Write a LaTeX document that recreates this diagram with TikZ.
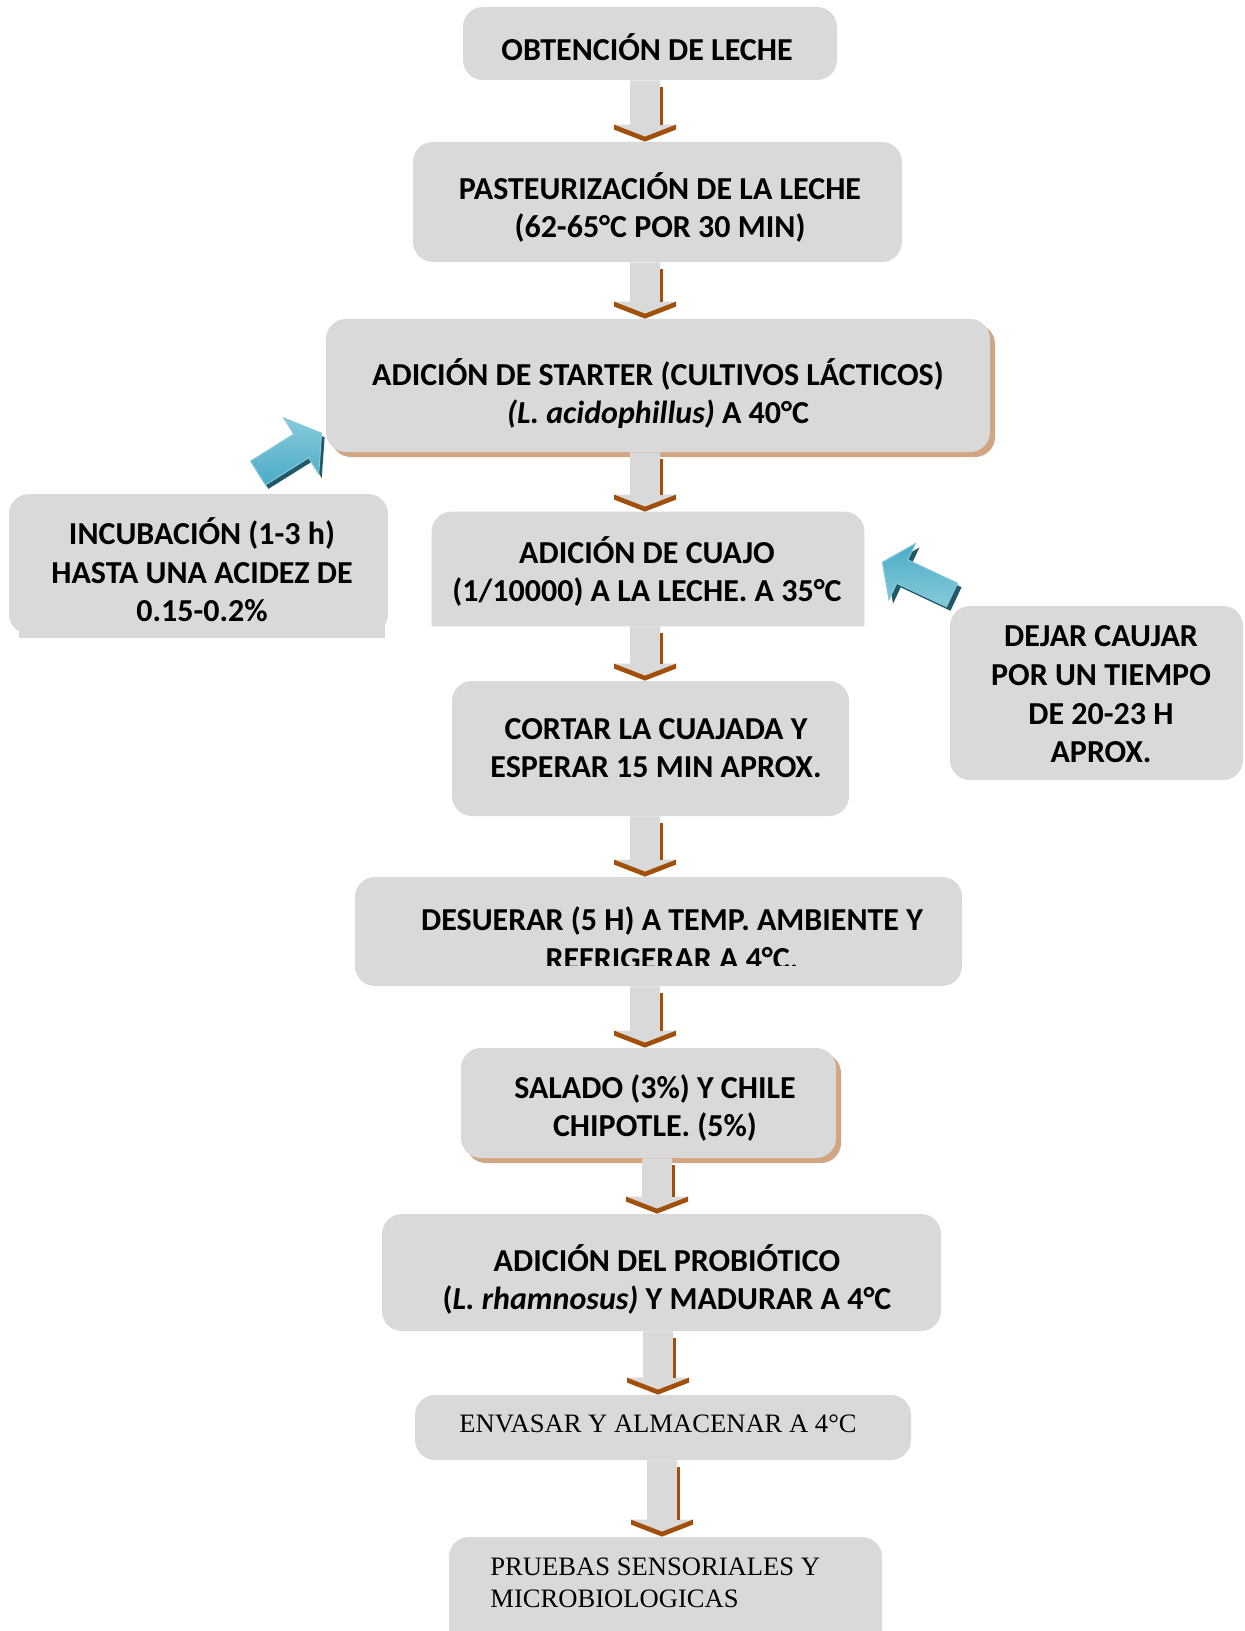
\documentclass[tikz,border=0pt]{standalone}
\usepackage{fontspec}
\setmainfont{Carlito}
\newfontfamily\serifrm{Liberation Serif}
\usetikzlibrary{calc,shadows}
\definecolor{boxgray}{HTML}{D9D9D9}
\definecolor{shadowtan}{HTML}{D2A583}
\definecolor{arrbrown}{HTML}{A0500A}
\definecolor{bluemid}{HTML}{4BACC6}
\definecolor{bluelight}{HTML}{86CADB}
\definecolor{bluedark}{HTML}{215968}
\tikzset{
  box/.style={fill=boxgray, rounded corners=10pt, inner sep=0pt},
  plainbox/.style={inner sep=0pt},
  tanshadow/.style={drop shadow={shadow xshift=2.5pt, shadow yshift=-2.5pt, fill=shadowtan, opacity=1}},
  txt/.style={font=\bfseries\fontsize{16}{19.3}\selectfont, align=center, inner sep=0pt},
  stxt/.style={font=\serifrm\fontsize{13.3}{16}\selectfont, inner sep=0pt},
}
\newcommand\boxnode[6][]{\node[box,#1, minimum width={#5*0.5pt}, minimum height={#6*0.5pt}] (#2) at (#3,#4) {};}
\newcommand\flowarrow[3]{%
  \path (#3,0) coordinate (ax);
  \path (ax |- #1.south) coordinate (as) (ax |- #2.north) coordinate (at);
  \fill[boxgray] ($(as)+(-15,0)$) -- ($(as)+(15,0)$) -- ($(at)+(15,-17)$) -- ($(at)+(31,-17)$) -- ($(at)+(0,-5)$) -- ($(at)+(-31,-17)$) -- ($(at)+(-15,-17)$) -- cycle;
  \fill[arrbrown] ($(as)+(15,7)$) rectangle ($(at)+(18,-17)$);
  \fill[arrbrown] ($(at)+(-31,-17)$) -- ($(at)+(0,-5)$) -- ($(at)+(31,-17)$) -- ($(at)+(31,-12)$) -- (at) -- ($(at)+(-31,-12)$) -- cycle;
}
\begin{document}
\begin{tikzpicture}[x=0.5pt,y=-0.5pt]
\useasboundingbox (0,0) rectangle (1245,1631);
\fill[white] (0,0) rectangle (1245,1631);

% boxes
\boxnode{b1}{650}{43.5}{374}{73}
\boxnode{b2}{657.5}{202}{489}{120}
\boxnode[tanshadow]{b3}{658}{385.5}{664}{133}
\node[plainbox, minimum width={432*0.5pt}, minimum height={114*0.5pt}] (b4) at (648,569) {};
\fill[boxgray] (b4.south west) [rounded corners=10pt] -- (b4.north west) -- (b4.north east) [sharp corners] -- (b4.south east) -- cycle;
\boxnode{b5}{650.5}{748.5}{397}{135}
\boxnode{b6}{658.5}{931.5}{607}{109}
\boxnode[tanshadow]{b7}{648.5}{1103}{375}{110}
\boxnode{b8}{661.5}{1272.5}{559}{117}
\boxnode{b9}{663}{1427.5}{496}{65}
\boxnode{b10}{665.5}{1598.5}{433}{123}
\boxnode{b11}{198.5}{564}{379}{140}
\fill[boxgray] (19,600) rectangle (385,638);
\boxnode{b12}{1096.5}{693}{293}{174}

% texts
\node[txt] (t1) at (647,47) {OBTENCIÓN DE LECHE};
\node[txt] (t2) at (660,207.5) {PASTEURIZACIÓN DE LA LECHE\\(62-65°C POR 30 MIN)};
\node[txt] (t3) at (658,393.5) {ADICIÓN DE STARTER (CULTIVOS LÁCTICOS)\\\textit{(L. acidophillus)} A 40°C};
\node[txt] (t4) at (647,571.5) {ADICIÓN DE CUAJO\\(1/10000) A LA LECHE. A 35°C};
\node[txt] (t5) at (656,748) {CORTAR LA CUAJADA Y\\ESPERAR 15 MIN APROX.};
\begin{scope}
  \clip (340,870) rectangle (1000,965);
  \node[txt] (t6) at (672,938) {DESUERAR (5 H) A TEMP. AMBIENTE Y\\REFRIGERAR A 4°C.};
\end{scope}
\node[txt] (t7) at (655,1108) {SALADO (3\%) Y CHILE\\CHIPOTLE. (5\%)};
\node[txt] (t8) at (667,1279.5) {ADICIÓN DEL PROBIÓTICO\\(\textit{L. rhamnosus)} Y MADURAR A 4°C};
\node[stxt] (t9) at (658,1424) {ENVASAR Y ALMACENAR A 4°C};
\node[stxt, align=left, anchor=west] (t10) at (490,1583) {PRUEBAS SENSORIALES Y\\MICROBIOLOGICAS};
\node[txt] (t11) at (202,570) {INCUBACIÓN (1-3 h)\\HASTA UNA ACIDEZ DE\\0.15-0.2\%};
\node[txt] (t12) at (1101,694.5) {DEJAR CAUJAR\\POR UN TIEMPO\\DE 20-23 H\\APROX.};

% flow arrows
\flowarrow{b1}{b2}{645}
\flowarrow{b2}{b3}{645}
\flowarrow{b3}{b4}{645}
\flowarrow{b4}{b5}{645}
\flowarrow{b5}{b6}{645}
\flowarrow{b6}{b7}{645}
\flowarrow{b7}{b8}{657}
\flowarrow{b8}{b9}{658}
\flowarrow{b9}{b10}{662}

% blue arrows
\begin{scope}[shift={(261,477)}, rotate=32]
  \fill[bluedark] (0,-14) -- (51,-14) -- (51,-33) -- (75,0) -- (51,33) -- (51,14) -- (0,14) -- cycle;
\end{scope}
\begin{scope}[shift={(258,473)}, rotate=32]
  \fill[top color=bluelight, bottom color=bluemid, draw=bluelight, line width=0.5pt] (0,-14) -- (51,-14) -- (51,-33) -- (75,0) -- (51,33) -- (51,14) -- (0,14) -- cycle;
\end{scope}
\begin{scope}[shift={(956,599)}, rotate=154.8]
  \fill[bluedark] (0,-13) -- (55,-13) -- (55,-31) -- (77,0) -- (55,31) -- (55,13) -- (0,13) -- cycle;
\end{scope}
\begin{scope}[shift={(952,595)}, rotate=154.8]
  \fill[top color=bluemid, bottom color=bluelight, draw=bluelight, line width=0.5pt] (0,-13) -- (55,-13) -- (55,-31) -- (77,0) -- (55,31) -- (55,13) -- (0,13) -- cycle;
\end{scope}
\end{tikzpicture}
\end{document}
